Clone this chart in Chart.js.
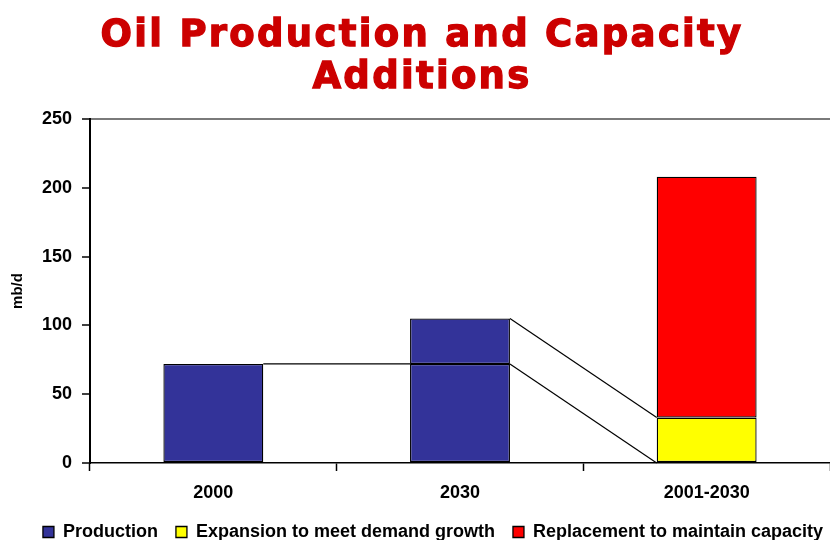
<!DOCTYPE html>
<html>
<head>
<meta charset="utf-8">
<title>Oil Production and Capacity Additions</title>
<script src="https://cdn.jsdelivr.net/npm/chart.js@4/dist/chart.umd.min.js"></script>
<style>
  html, body { margin: 0; padding: 0; background: #fff; }
  #wrap { position: relative; width: 830px; height: 540px; overflow: hidden; }
  #chart { position: absolute; left: 0; top: 0; }
  #title {
    position: absolute; left: 0; top: 13px; width: 844px; margin: 0;
    text-align: center; font-family: "DejaVu Sans", sans-serif; font-weight: bold;
    font-size: 37px; line-height: 42px; letter-spacing: 2.3px;
    color: #cc0000; -webkit-text-stroke: 1.3px #cc0000;
  }
</style>
</head>
<body>
<div id="wrap">
  <canvas id="chart" width="830" height="540"></canvas>
  <h1 id="title">Oil Production and Capacity<br>Additions</h1>
</div>
<script>
// Categories and series (mb/d)
const categories = ['2000', '2030', '2001-2030'];
const production = [72, 72, null];          // production level carried over from 2000
const productionGrowth = [null, 33, null];  // extra production reached by 2030
const expansion = [null, null, 33];         // new capacity for demand growth
const replacement = [null, null, 175];      // new capacity to replace decline
const yTicks = [0, 50, 100, 150, 200, 250];

const BLUE = '#333399', YELLOW = '#ffff00', RED = '#ff0000';
const FONT = 'Liberation Sans, Arial, sans-serif';

const v = a => (a == null ? 0 : a);

// Connector lines between neighbouring stacks: [fromIndex, fromValue, toIndex, toValue]
const links = [
  [0, v(production[0]), 1, v(production[1])],
  [1, v(production[1]), 2, v(production[2])],
  [1, v(production[1]) + v(productionGrowth[1]), 2, v(production[2]) + v(expansion[2])]
];

const seriesLines = {
  id: 'seriesLines',
  afterDatasetsDraw(chart) {
    const xs = chart.scales.x, ys = chart.scales.y, ctx = chart.ctx;
    const w = chart.getDatasetMeta(0).data[0].width;
    ctx.save();
    ctx.strokeStyle = '#000';
    ctx.lineWidth = 1.2;
    links.forEach(([i, a, j, b]) => {
      ctx.beginPath();
      ctx.moveTo(xs.getPixelForValue(i) + w / 2, ys.getPixelForValue(a));
      ctx.lineTo(xs.getPixelForValue(j) - w / 2, ys.getPixelForValue(b));
      ctx.stroke();
    });
    ctx.restore();
  }
};

// Nudge the legend row to its place under the axis labels
const legendOffset = {
  id: 'legendOffset',
  afterLayout(chart) {
    const lg = chart.legend;
    lg.left += 18; lg.right += 18;
    lg.top -= 3; lg.bottom -= 3;
  }
};

const barStyle = { borderColor: '#000', borderWidth: 1.3, borderSkipped: false };

new Chart(document.getElementById('chart'), {
  type: 'bar',
  data: {
    labels: categories,
    datasets: [
      { label: 'Production', data: production, backgroundColor: BLUE, ...barStyle },
      { label: 'Production growth', data: productionGrowth, backgroundColor: BLUE, ...barStyle },
      { label: 'Expansion to meet demand growth', data: expansion, backgroundColor: YELLOW, ...barStyle },
      { label: 'Replacement to maintain capacity', data: replacement, backgroundColor: RED, ...barStyle }
    ]
  },
  plugins: [seriesLines, legendOffset],
  options: {
    responsive: false,
    animation: false,
    devicePixelRatio: 1,
    layout: { padding: { top: 119, left: 0, right: 0, bottom: -14 } },
    datasets: { bar: { categoryPercentage: 1.0, barPercentage: 0.405 } },
    scales: {
      x: {
        stacked: true,
        offset: true,
        afterFit(scale) { scale.height = 45; },
        border: { display: true, color: '#000', width: 1.5 },
        grid: { display: true, offset: true, drawOnChartArea: false, drawTicks: true,
                tickLength: 8, tickColor: '#000', tickWidth: 1.5 },
        ticks: { color: '#000', padding: 11, font: { family: FONT, size: 18, weight: 'bold' } }
      },
      y: {
        stacked: true,
        min: 0,
        max: 250,
        afterBuildTicks(scale) { scale.ticks = yTicks.map(value => ({ value })); },
        afterFit(scale) { scale.width = 90; },
        border: { display: true, color: '#000', width: 2 },
        grid: {
          drawOnChartArea: true, drawTicks: true, tickLength: 8,
          tickColor: '#000', tickWidth: 1.5,
          color: c => (c.tick && c.tick.value === 250 ? '#7a7a7a' : 'rgba(0,0,0,0)'),
          lineWidth: 2
        },
        ticks: { color: '#000', padding: 10, font: { family: FONT, size: 18, weight: 'bold' } },
        title: {
          display: true, text: 'mb/d', color: '#000',
          padding: { top: 9, bottom: 0 },
          font: { family: FONT, size: 15, weight: 'bold' }
        }
      }
    },
    plugins: {
      title: { display: false },
      tooltip: { enabled: false },
      legend: {
        position: 'bottom',
        align: 'center',
        labels: {
          color: '#000',
          boxWidth: 11,
          boxHeight: 11,
          padding: 18,
          font: { family: FONT, size: 18, weight: 'bold' },
          filter: item => item.text !== 'Production growth'
        }
      }
    }
  }
});
</script>
</body>
</html>
